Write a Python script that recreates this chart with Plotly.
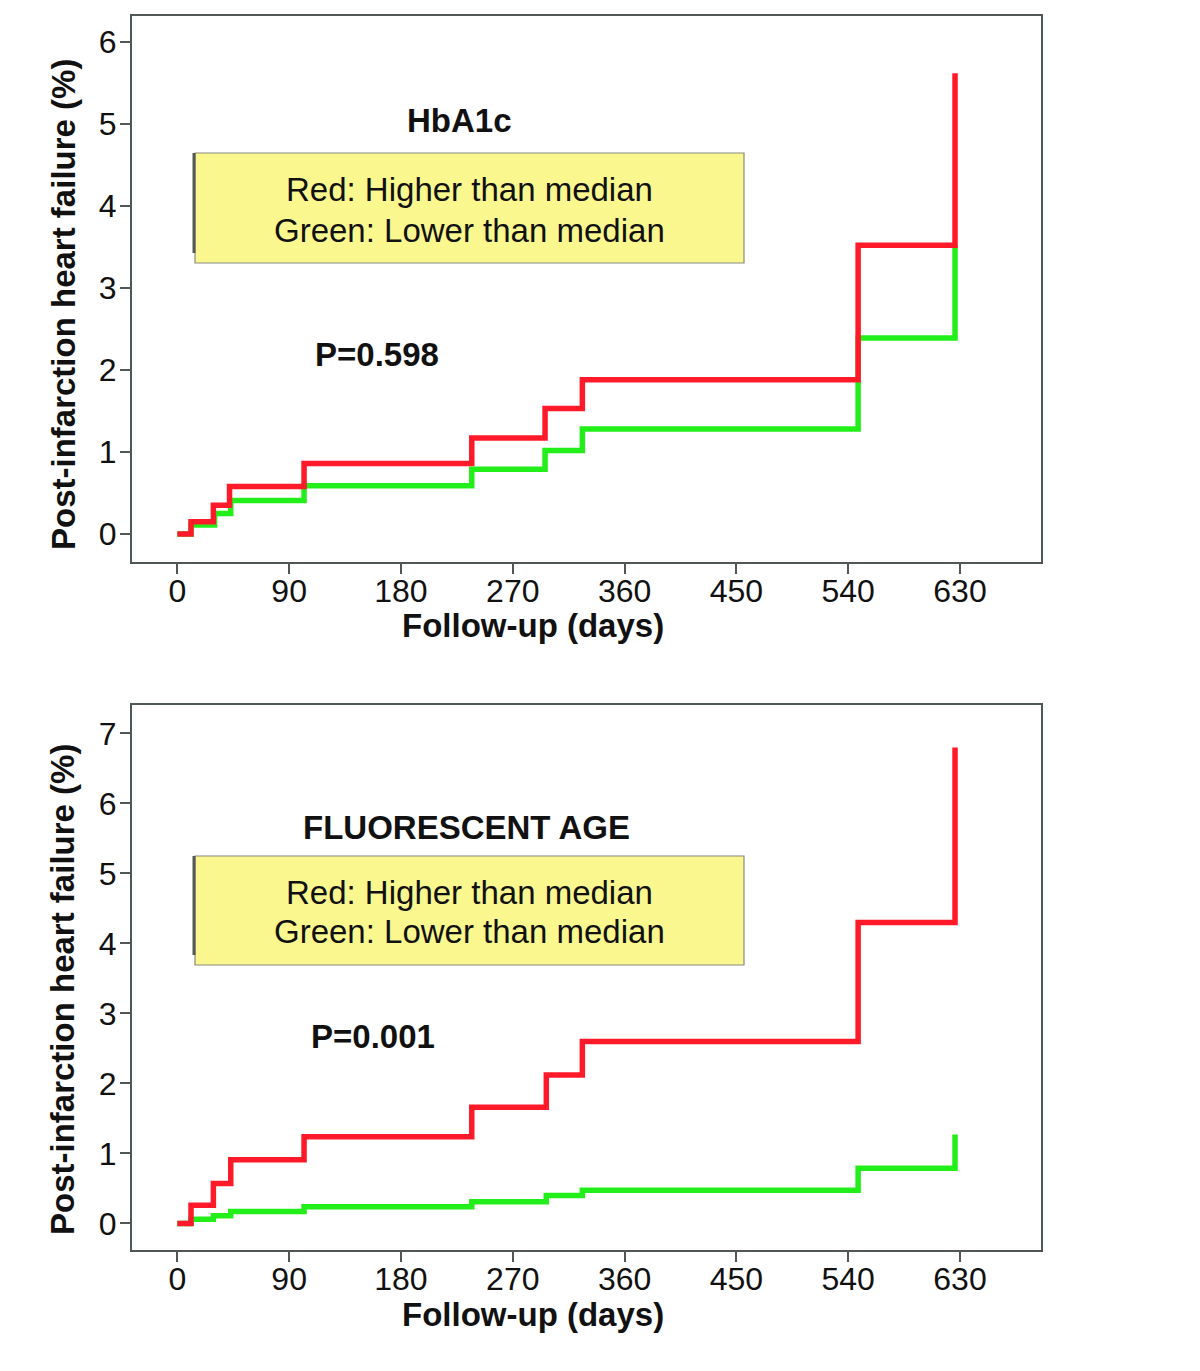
import plotly.graph_objects as go

# ---- data (days, cumulative % post-infarction heart failure) ----
hba1c_red_days = [0, 11, 29, 42, 102, 237, 296, 326, 548, 626]
hba1c_red_pct = [0, 0.15, 0.35, 0.58, 0.86, 1.17, 1.53, 1.88, 3.52, 5.62]
hba1c_green_days = [0, 11, 30, 43, 102, 237, 296, 326, 548, 626]
hba1c_green_pct = [0, 0.11, 0.25, 0.41, 0.59, 0.79, 1.02, 1.28, 2.39, 3.52]

fage_red_days = [0, 11, 29, 43, 102, 237, 297, 326, 548, 626]
fage_red_pct = [0, 0.26, 0.57, 0.91, 1.24, 1.66, 2.12, 2.60, 4.30, 6.80]
fage_green_days = [0, 11, 29, 43, 102, 237, 297, 326, 548, 626]
fage_green_pct = [0, 0.06, 0.11, 0.17, 0.24, 0.31, 0.40, 0.475, 0.79, 1.27]

x_ticks = [0, 90, 180, 270, 360, 450, 540, 630]
y_ticks_top = [0, 1, 2, 3, 4, 5, 6]
y_ticks_bottom = [0, 1, 2, 3, 4, 5, 6, 7]

panel_titles = ["HbA1c", "FLUORESCENT AGE"]
p_values = ["P=0.598", "P=0.001"]
legend_lines = ["Red: Higher than median", "Green: Lower than median"]
x_title = "Follow-up (days)"
y_title = "Post-infarction heart failure (%)"

RED = "#ff1a2a"
GREEN = "#22ee1a"
FRAME = "#4f5757"
FONT = "Liberation Sans, Arial, sans-serif"

# page body has an 8px default margin
OFF = 8
W, H = 1200 - 2 * OFF, 1371 - 2 * OFF

def px(x):
    return (x - OFF) / W

def py(y):
    return 1 - (y - OFF) / H

fig = go.Figure()

fig.add_trace(go.Scatter(x=hba1c_green_days, y=hba1c_green_pct, mode="lines",
                         line=dict(color=GREEN, width=5.5, shape="hv"),
                         xaxis="x", yaxis="y", showlegend=False))
fig.add_trace(go.Scatter(x=hba1c_red_days, y=hba1c_red_pct, mode="lines",
                         line=dict(color=RED, width=5.5, shape="hv"),
                         xaxis="x", yaxis="y", showlegend=False))
fig.add_trace(go.Scatter(x=fage_green_days, y=fage_green_pct, mode="lines",
                         line=dict(color=GREEN, width=5.5, shape="hv"),
                         xaxis="x2", yaxis="y2", showlegend=False))
fig.add_trace(go.Scatter(x=fage_red_days, y=fage_red_pct, mode="lines",
                         line=dict(color=RED, width=5.5, shape="hv"),
                         xaxis="x2", yaxis="y2", showlegend=False))

axis_common = dict(showgrid=False, zeroline=False, showline=True, mirror=True,
                   linecolor=FRAME, linewidth=2, ticks="outside", ticklen=10,
                   tickwidth=2, tickcolor=FRAME,
                   tickfont=dict(family=FONT, size=32, color="#111"))

x_range = [-36.5, 695.2]
fig.update_layout(
    width=W, height=H,
    margin=dict(l=0, r=0, t=0, b=0),
    paper_bgcolor="white", plot_bgcolor="white",
    xaxis=dict(domain=[px(132), px(1041)], range=x_range, anchor="y",
               tickvals=x_ticks, ticklabelstandoff=-10, **axis_common),
    yaxis=dict(domain=[py(562), py(16)], range=[-0.341, 6.317], anchor="x",
               tickvals=y_ticks_top, ticklabelstandoff=-3, **axis_common),
    xaxis2=dict(domain=[px(132), px(1041)], range=x_range, anchor="y2",
                tickvals=x_ticks, ticklabelstandoff=-10, **axis_common),
    yaxis2=dict(domain=[py(1250), py(705)], range=[-0.379, 7.407], anchor="x2",
                tickvals=y_ticks_bottom, ticklabelstandoff=-3, **axis_common),
)

shapes = []
annotations = []
panels = [
    dict(box_top=153, box_bot=263, title_y=121, title_x=459, p_x=377, p_y=354,
         leg_y=[190, 230], xt_y=625, yt_y=305),
    dict(box_top=856, box_bot=965, title_y=827, title_x=466, p_x=373, p_y=1036,
         leg_y=[892, 931], xt_y=1314, yt_y=990),
]
for i, p in enumerate(panels):
    shapes.append(dict(type="rect", xref="paper", yref="paper",
                       x0=px(195), x1=px(744), y0=py(p["box_bot"]), y1=py(p["box_top"]),
                       fillcolor="#faf78f", line=dict(color="#8a8a80", width=1.2),
                       layer="above"))
    shapes.append(dict(type="line", xref="paper", yref="paper",
                       x0=px(194), x1=px(194), y0=py(p["box_bot"] - 10), y1=py(p["box_top"]),
                       line=dict(color="#555a55", width=3), layer="above"))
    annotations.append(dict(text=f"<b>{panel_titles[i]}</b>", xref="paper", yref="paper",
                            x=px(p["title_x"]), y=py(p["title_y"]), showarrow=False,
                            xanchor="center", yanchor="middle",
                            font=dict(family=FONT, size=33, color="#111")))
    annotations.append(dict(text=f"<b>{p_values[i]}</b>", xref="paper", yref="paper",
                            x=px(p["p_x"]), y=py(p["p_y"]), showarrow=False,
                            xanchor="center", yanchor="middle",
                            font=dict(family=FONT, size=33, color="#111")))
    for j, line in enumerate(legend_lines):
        annotations.append(dict(text=line, xref="paper", yref="paper",
                                x=px(469), y=py(p["leg_y"][j]), showarrow=False,
                                xanchor="center", yanchor="middle",
                                font=dict(family=FONT, size=33, color="#111")))
    annotations.append(dict(text=f"<b>{x_title}</b>", xref="paper", yref="paper",
                            x=px(533), y=py(p["xt_y"]), showarrow=False,
                            xanchor="center", yanchor="middle",
                            font=dict(family=FONT, size=33, color="#111")))
    annotations.append(dict(text=f"<b>{y_title}</b>", xref="paper", yref="paper",
                            x=px(63), y=py(p["yt_y"]), showarrow=False, textangle=-90,
                            xanchor="center", yanchor="middle",
                            font=dict(family=FONT, size=33, color="#111")))

fig.update_layout(shapes=shapes, annotations=annotations)
fig.write_html("out.html")
